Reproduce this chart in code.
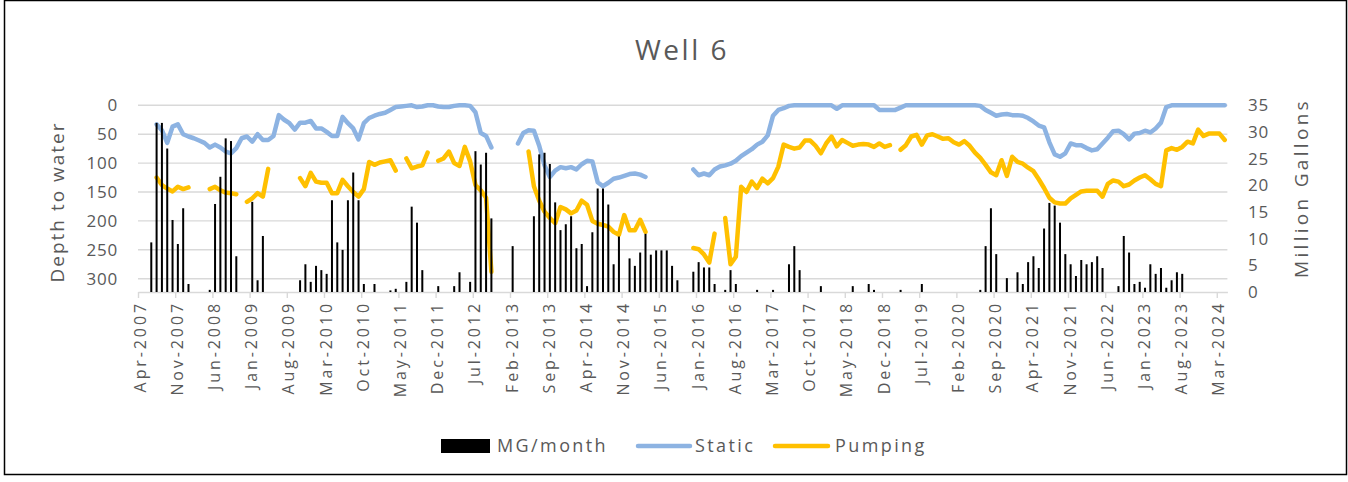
<!DOCTYPE html>
<html>
<head>
<meta charset="utf-8">
<script src="https://cdn.jsdelivr.net/npm/d3@7"></script>
<style>
  body { margin: 0; background: #fff; }
  text { font-family: 'Open Sans', sans-serif; fill: #595959; }
</style>
</head>
<body>
<div id="chart"></div>
<script>
// monthly series, index 0 = Apr-2007, one row per Apr..Mar year
const firstMonth = new Date(2007, 3, 1)

const mgPerMonth = [
  0, 0, 9.3, 31.7, 31.7, 26.9, 13.5, 9.0, 15.7, 1.5, 0, 0,
  0, 0.4, 16.5, 21.6, 28.8, 28.3, 6.7, 0, 0, 16.9, 2.2, 10.5,
  0, 0, 0, 0, 0, 0, 2.2, 5.2, 1.9, 4.9, 4.1, 3.4,
  17.2, 9.3, 7.9, 17.2, 22.4, 17.2, 1.5, 0, 1.5, 0, 0, 0.3,
  0.6, 0, 1.9, 16, 13, 4.1, 0, 0, 1.1, 0, 0, 1.1,
  3.7, 0, 1.9, 26.4, 23.9, 26.1, 13.8, 0, 0, 0, 8.6, 0,
  0, 0, 14.2, 25.8, 26.1, 24, 16.8, 11.6, 12.7, 14.2, 8.2, 9,
  1.1, 11.2, 19.4, 19.4, 16.4, 5.2, 10.4, 0, 6.3, 4.9, 7.4, 10.9,
  7, 7.8, 7.8, 7.8, 4.9, 2.2, 0, 0, 3.8, 5.6, 4.6, 4.6,
  1.5, 0, 0.4, 4.1, 1.5, 0, 0, 0, 0.4, 0, 0, 0.4,
  0, 0, 5.2, 8.6, 4.1, 0, 0, 0, 1.1, 0, 0, 0,
  0, 0, 1.1, 0, 0, 1.5, 0.4, 0, 0, 0, 0, 0.4,
  0, 0, 0, 1.5, 0, 0, 0, 0, 0, 0, 0, 0,
  0, 0, 0.4, 8.6, 15.7, 7.1, 0, 2.6, 0, 3.7, 1.5, 5.6,
  6.7, 4.5, 11.9, 16.7, 16.2, 13, 7.1, 5.2, 3, 6, 5.2, 5.6,
  6.7, 4.5, 0, 0, 1.1, 10.5, 7.4, 1.5, 1.9, 0.8, 5.2, 3.4,
  4.5, 0.8, 2.2, 3.7, 3.4, 0, 0, 0, 0, 0, 0, 0,
  0
]

const staticDepth = [
  null, null, null, 33, 43, 65, 37, 33, 50, 54, 57, 61,
  65, 73, 68, 73, 80, 83, 74, 57, 54, 63, 50, 60,
  60, 53, 17, 25, 31, 42, 30, 30, 27, 40, 40, 46,
  53, 53, 20, 31, 40, 59, 31, 22, 18, 15, 13, 8,
  3, 2, 1, 0, 3, 2, 0, 0, 2, 3, 3, 1,
  0, 0, 1, 12, 48, 53, 73, null, null, null, null, 66,
  48, 43, 44, 70, 104, 124, 113, 107, 109, 107, 111, 102,
  96, 97, 133, 140, 134, 127, 125, 122, 119, 118, 120, 124,
  null, null, null, null, null, null, null, null, 111, 121, 118, 121,
  111, 106, 104, 101, 96, 88, 82, 76, 68, 63, 52, 18,
  8, 5, 1, 0, 0, 0, 0, 0, 0, 0, 0, 6,
  0, 0, 0, 0, 0, 0, 0, 8, 8, 8, 8, 4,
  0, 0, 0, 0, 0, 0, 0, 0, 0, 0, 0, 0,
  0, 0, 1, 8, 13, 18, 16, 15, 17, 17, 18, 22,
  28, 35, 38, 64, 85, 89, 83, 66, 69, 69, 74, 78,
  76, 66, 56, 45, 44, 50, 59, 49, 48, 44, 47, 40,
  30, 3, 0, 0, 0, 0, 0, 0, 0, 0, 0, 0,
  0
]

const pumpingDepth = [
  null, null, null, 125, 138, 144, 149, 141, 145, 142, null, null,
  null, 145, 141, 147, 151, 152, 154, null, 167, 161, 152, 158,
  110, null, null, null, null, null, 126, 140, 117, 132, 134, 134,
  152, 152, 129, 140, 150, 158, 145, 98, 103, 99, 97, 95,
  113, null, 92, 109, 106, 104, 82, null, 96, 92, 80, 100,
  105, 72, 97, 138, 147, 160, 288, null, null, null, null, null,
  null, 80, 140, 165, 184, 195, 204, 176, 180, 187, 182, 165,
  172, 200, 205, 207, 210, 219, 224, 190, 216, 216, 198, 219,
  null, null, null, null, null, null, null, null, 247, 249, 258, 272,
  222, null, 195, 275, 262, 141, 150, 132, 143, 127, 135, 126,
  106, 68, 72, 75, 73, 61, 61, 70, 83, 66, 54, 71,
  60, 65, 70, 68, 67, 68, 72, 66, 72, 69, null, 77,
  69, 54, 51, 68, 52, 50, 54, 58, 57, 64, 68, 62,
  70, 82, 91, 103, 116, 121, 95, 122, 89, 98, 101, 108,
  114, 128, 143, 160, 168, 170, 170, 161, 155, 149, 148, 148,
  148, 158, 136, 130, 132, 140, 137, 130, 125, 121, 128, 136,
  140, 78, 74, 77, 72, 63, 66, 42, 53, 49, 49, 49,
  60
]

const depthTicks = [0, 50, 100, 150, 200, 250, 300]
const gallonTicks = [0, 5, 10, 15, 20, 25, 30, 35]
const legendNames = ['MG/month', 'Static', 'Pumping']
const colors = { bars: '#000000', static: '#8db3e2', pumping: '#ffc000' }

const width = 1348
const height = 482
const plot = { left: 138, right: 1227.4, top: 105.3, bottom: 292 }

const svg = d3
  .select('#chart')
  .append('svg')
  .attr('width', width)
  .attr('height', height)

// outer frame
svg
  .append('rect')
  .attr('x', 4.5)
  .attr('y', 0.5)
  .attr('width', width - 6)
  .attr('height', height - 8)
  .attr('fill', 'none')
  .attr('stroke', '#000')
  .attr('stroke-width', 1.5)

const x = d3
  .scaleLinear()
  .domain([0, mgPerMonth.length])
  .range([plot.left, plot.right])

const yDepth = d3
  .scaleLinear()
  .domain([0, 323])
  .range([plot.top, plot.bottom])

const yGallons = d3
  .scaleLinear()
  .domain([0, 35])
  .range([plot.bottom, plot.top])

const fmtMonth = d3.timeFormat('%b-%Y')

// gridlines from the depth axis
svg
  .append('g')
  .selectAll('line')
  .data(depthTicks)
  .enter()
  .append('line')
  .attr('x1', plot.left)
  .attr('x2', plot.right)
  .attr('y1', d => yDepth(d))
  .attr('y2', d => yDepth(d))
  .attr('stroke', '#d9d9d9')
  .attr('stroke-width', 1.4)

// x axis
const xAxis = d3
  .axisBottom(x)
  .tickValues(d3.range(0, mgPerMonth.length, 7))
  .tickSize(6)
  .tickSizeOuter(0)
  .tickFormat(i => fmtMonth(d3.timeMonth.offset(firstMonth, i)))

const gx = svg
  .append('g')
  .attr('transform', `translate(0,${plot.bottom})`)
  .call(xAxis)
gx.select('.domain').attr('stroke', '#d9d9d9').attr('stroke-width', 1.4)
gx.selectAll('.tick line').attr('stroke', '#d9d9d9').attr('stroke-width', 1.4)
gx.selectAll('.tick text')
  .attr('transform', 'rotate(-90)')
  .attr('text-anchor', 'end')
  .attr('x', -9)
  .attr('y', 1)
  .attr('dy', '0.38em')
  .attr('dx', null)
  .style('font-family', "'Open Sans', sans-serif")
  .style('font-size', '16px')
  .style('letter-spacing', '2.9px')
  .style('fill', '#595959')

// left axis labels
svg
  .append('g')
  .selectAll('text')
  .data(depthTicks)
  .enter()
  .append('text')
  .attr('x', 118)
  .attr('y', d => yDepth(d))
  .attr('dy', '0.36em')
  .attr('text-anchor', 'end')
  .style('font-size', '17px')
  .style('letter-spacing', '0.8px')
  .text(d => d)

// right axis labels
svg
  .append('g')
  .selectAll('text')
  .data(gallonTicks)
  .enter()
  .append('text')
  .attr('x', 1248)
  .attr('y', d => yGallons(d))
  .attr('dy', '0.36em')
  .attr('text-anchor', 'start')
  .style('font-size', '17px')
  .style('letter-spacing', '0.8px')
  .text(d => d)

// axis titles
svg
  .append('text')
  .attr('transform', 'translate(64,202) rotate(-90)')
  .attr('text-anchor', 'middle')
  .style('font-size', '19px')
  .style('letter-spacing', '2px')
  .text('Depth to water')

svg
  .append('text')
  .attr('transform', 'translate(1308,188) rotate(-90)')
  .attr('text-anchor', 'middle')
  .style('font-size', '19px')
  .style('letter-spacing', '3.3px')
  .text('Million Gallons')

svg
  .append('text')
  .attr('x', 682)
  .attr('y', 60)
  .attr('text-anchor', 'middle')
  .style('font-size', '28px')
  .style('letter-spacing', '2.5px')
  .text('Well 6')

// lines on the depth axis
const line = d3
  .line()
  .defined(d => d != null)
  .x((d, i) => x(i + 0.5))
  .y(d => yDepth(d))

svg
  .append('path')
  .datum(staticDepth)
  .attr('d', line)
  .attr('fill', 'none')
  .attr('stroke', colors.static)
  .attr('stroke-width', 4.5)
  .attr('stroke-linejoin', 'round')
  .attr('stroke-linecap', 'round')

svg
  .append('path')
  .datum(pumpingDepth)
  .attr('d', line)
  .attr('fill', 'none')
  .attr('stroke', colors.pumping)
  .attr('stroke-width', 4.5)
  .attr('stroke-linejoin', 'round')
  .attr('stroke-linecap', 'round')

// monthly volume bars (secondary axis, drawn on top)
svg
  .append('g')
  .selectAll('rect')
  .data(mgPerMonth)
  .enter()
  .append('rect')
  .attr('x', (d, i) => x(i + 0.5) - 1)
  .attr('width', 2)
  .attr('y', d => yGallons(d))
  .attr('height', d => plot.bottom - yGallons(d))
  .attr('fill', colors.bars)

// legend
const legend = svg.append('g').attr('transform', 'translate(0,446)')
legend
  .append('rect')
  .attr('x', 441)
  .attr('y', -7)
  .attr('width', 49)
  .attr('height', 14)
  .attr('fill', colors.bars)
legend
  .append('line')
  .attr('x1', 638)
  .attr('x2', 690)
  .attr('stroke', colors.static)
  .attr('stroke-width', 4.5)
  .attr('stroke-linecap', 'round')
legend
  .append('line')
  .attr('x1', 775)
  .attr('x2', 828)
  .attr('stroke', colors.pumping)
  .attr('stroke-width', 4.5)
  .attr('stroke-linecap', 'round')
legend
  .selectAll('text')
  .data(legendNames)
  .enter()
  .append('text')
  .attr('x', (d, i) => [497, 695, 835][i])
  .attr('y', 0)
  .attr('dy', '0.36em')
  .style('font-size', '18px')
  .style('letter-spacing', '2.4px')
  .text(d => d)
</script>
</body>
</html>
